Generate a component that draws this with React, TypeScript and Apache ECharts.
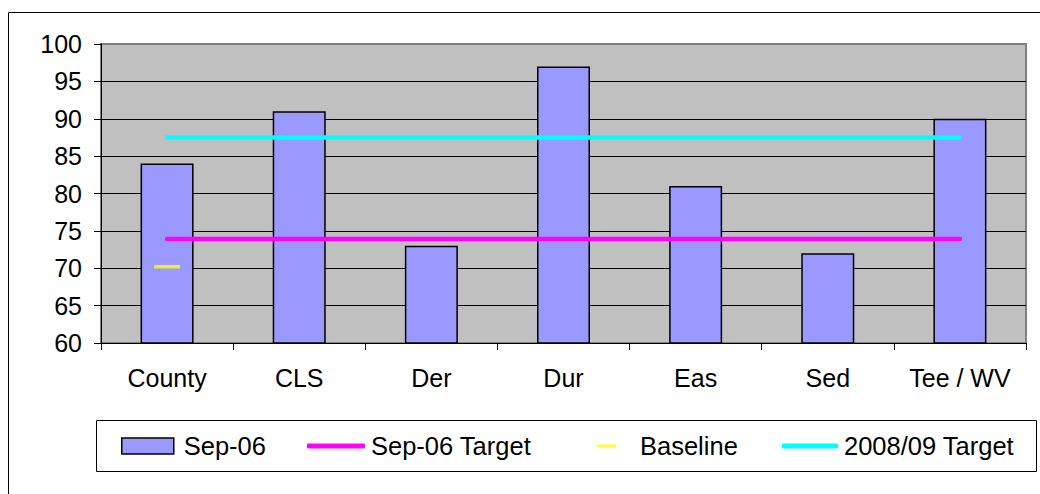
import React, { useEffect, useRef } from "react";
import * as echarts from "echarts";

const categories = ["County", "CLS", "Der", "Dur", "Eas", "Sed", "Tee / WV"];
const sep06 = [84, 91, 73, 97, 81, 72, 90];
const sep06Target = [73.9, 73.9, 73.9, 73.9, 73.9, 73.9, 73.9];
const baseline = [70.2, null, null, null, null, null, null];
const target0809 = [87.5, 87.5, 87.5, 87.5, 87.5, 87.5, 87.5];
const yTicks = { min: 60, max: 100, interval: 5 };

const FONT = "'Liberation Sans', Arial, sans-serif";
const FS = 25;
const LFS = 25.5;

export default function App() {
  const ref = useRef<HTMLDivElement>(null);
  useEffect(() => {
    document.body.style.margin = "0";
    const chart = echarts.init(ref.current!, null, { renderer: "svg" });
    const legendText = (pad: number) => ({
      color: "#000",
      fontFamily: FONT,
      fontSize: LFS,
      lineHeight: 28,
      padding: [0, 0, 0, pad],
    });
    chart.setOption({
      animation: false,
      backgroundColor: "#fff",
      textStyle: { fontFamily: FONT },
      grid: {
        left: 101,
        top: 44,
        right: 14,
        bottom: 151,
        show: true,
        backgroundColor: "#C0C0C0",
        borderColor: "#808080",
        borderWidth: 2,
      },
      xAxis: {
        type: "category",
        data: categories,
        boundaryGap: true,
        axisLine: { lineStyle: { color: "#000", width: 1 } },
        axisTick: { show: true, length: 7, lineStyle: { color: "#000" } },
        axisLabel: { color: "#000", fontSize: FS, fontFamily: FONT, margin: 22, interval: 0 },
        splitLine: { show: false },
      },
      yAxis: {
        type: "value",
        min: yTicks.min,
        max: yTicks.max,
        interval: yTicks.interval,
        axisLine: { show: true, lineStyle: { color: "#000", width: 1 } },
        axisTick: { show: true, length: 7, lineStyle: { color: "#000" } },
        axisLabel: { color: "#000", fontSize: FS, fontFamily: FONT, margin: 19 },
        splitLine: {
          show: true,
          lineStyle: {
            color: ["#000", "#000", "#000", "#000", "#000", "#000", "#000", "#000", "#808080"],
            width: 1,
          },
        },
      },
      legend: [
        {
          data: ["Sep-06"],
          left: 121,
          top: 432,
          padding: 0,
          itemWidth: 52,
          itemHeight: 16,
          icon: "rect",
          itemStyle: { borderColor: "#000", borderWidth: 1.5 },
          textStyle: legendText(5),
          selectedMode: false,
        },
        {
          data: ["Sep-06 Target"],
          left: 307,
          top: 432,
          padding: 0,
          itemWidth: 58,
          itemHeight: 5,
          icon: "roundRect",
          textStyle: legendText(1),
          selectedMode: false,
        },
        {
          data: ["Baseline"],
          left: 597,
          top: 432,
          padding: 0,
          itemWidth: 19,
          itemHeight: 3,
          icon: "rect",
          textStyle: legendText(19),
          selectedMode: false,
        },
        {
          data: ["2008/09 Target"],
          left: 782,
          top: 432,
          padding: 0,
          itemWidth: 56,
          itemHeight: 5,
          icon: "roundRect",
          textStyle: legendText(1),
          selectedMode: false,
        },
      ],
      graphic: [
        {
          type: "rect",
          z: -10,
          silent: true,
          shape: { x: 8.5, y: 12.5, width: 1100, height: 600 },
          style: { fill: "none", stroke: "#000", lineWidth: 1 },
        },
        {
          type: "rect",
          z: -5,
          silent: true,
          shape: { x: 96.5, y: 420.5, width: 940, height: 51 },
          style: { fill: "#fff", stroke: "#000", lineWidth: 1 },
        },
      ],
      series: [
        {
          name: "Sep-06",
          type: "bar",
          data: sep06,
          barWidth: 53,
          itemStyle: { color: "#9999FF", borderColor: "#000", borderWidth: 1.5 },
          z: 2,
        },
        {
          name: "Sep-06 Target",
          type: "line",
          data: sep06Target,
          symbol: "none",
          lineStyle: { color: "#FF00FF", width: 4.5, cap: "round" },
          itemStyle: { color: "#FF00FF" },
          z: 3,
        },
        {
          name: "Baseline",
          type: "scatter",
          data: baseline,
          symbol: "rect",
          symbolSize: [26, 3.5],
          itemStyle: { color: "#FFFF00" },
          z: 3,
        },
        {
          name: "2008/09 Target",
          type: "line",
          data: target0809,
          symbol: "none",
          lineStyle: { color: "#00FFFF", width: 4.5, cap: "round" },
          itemStyle: { color: "#00FFFF" },
          z: 3,
        },
      ],
    });
    return () => chart.dispose();
  }, []);
  return <div ref={ref} style={{ width: 1040, height: 494 }} />;
}
